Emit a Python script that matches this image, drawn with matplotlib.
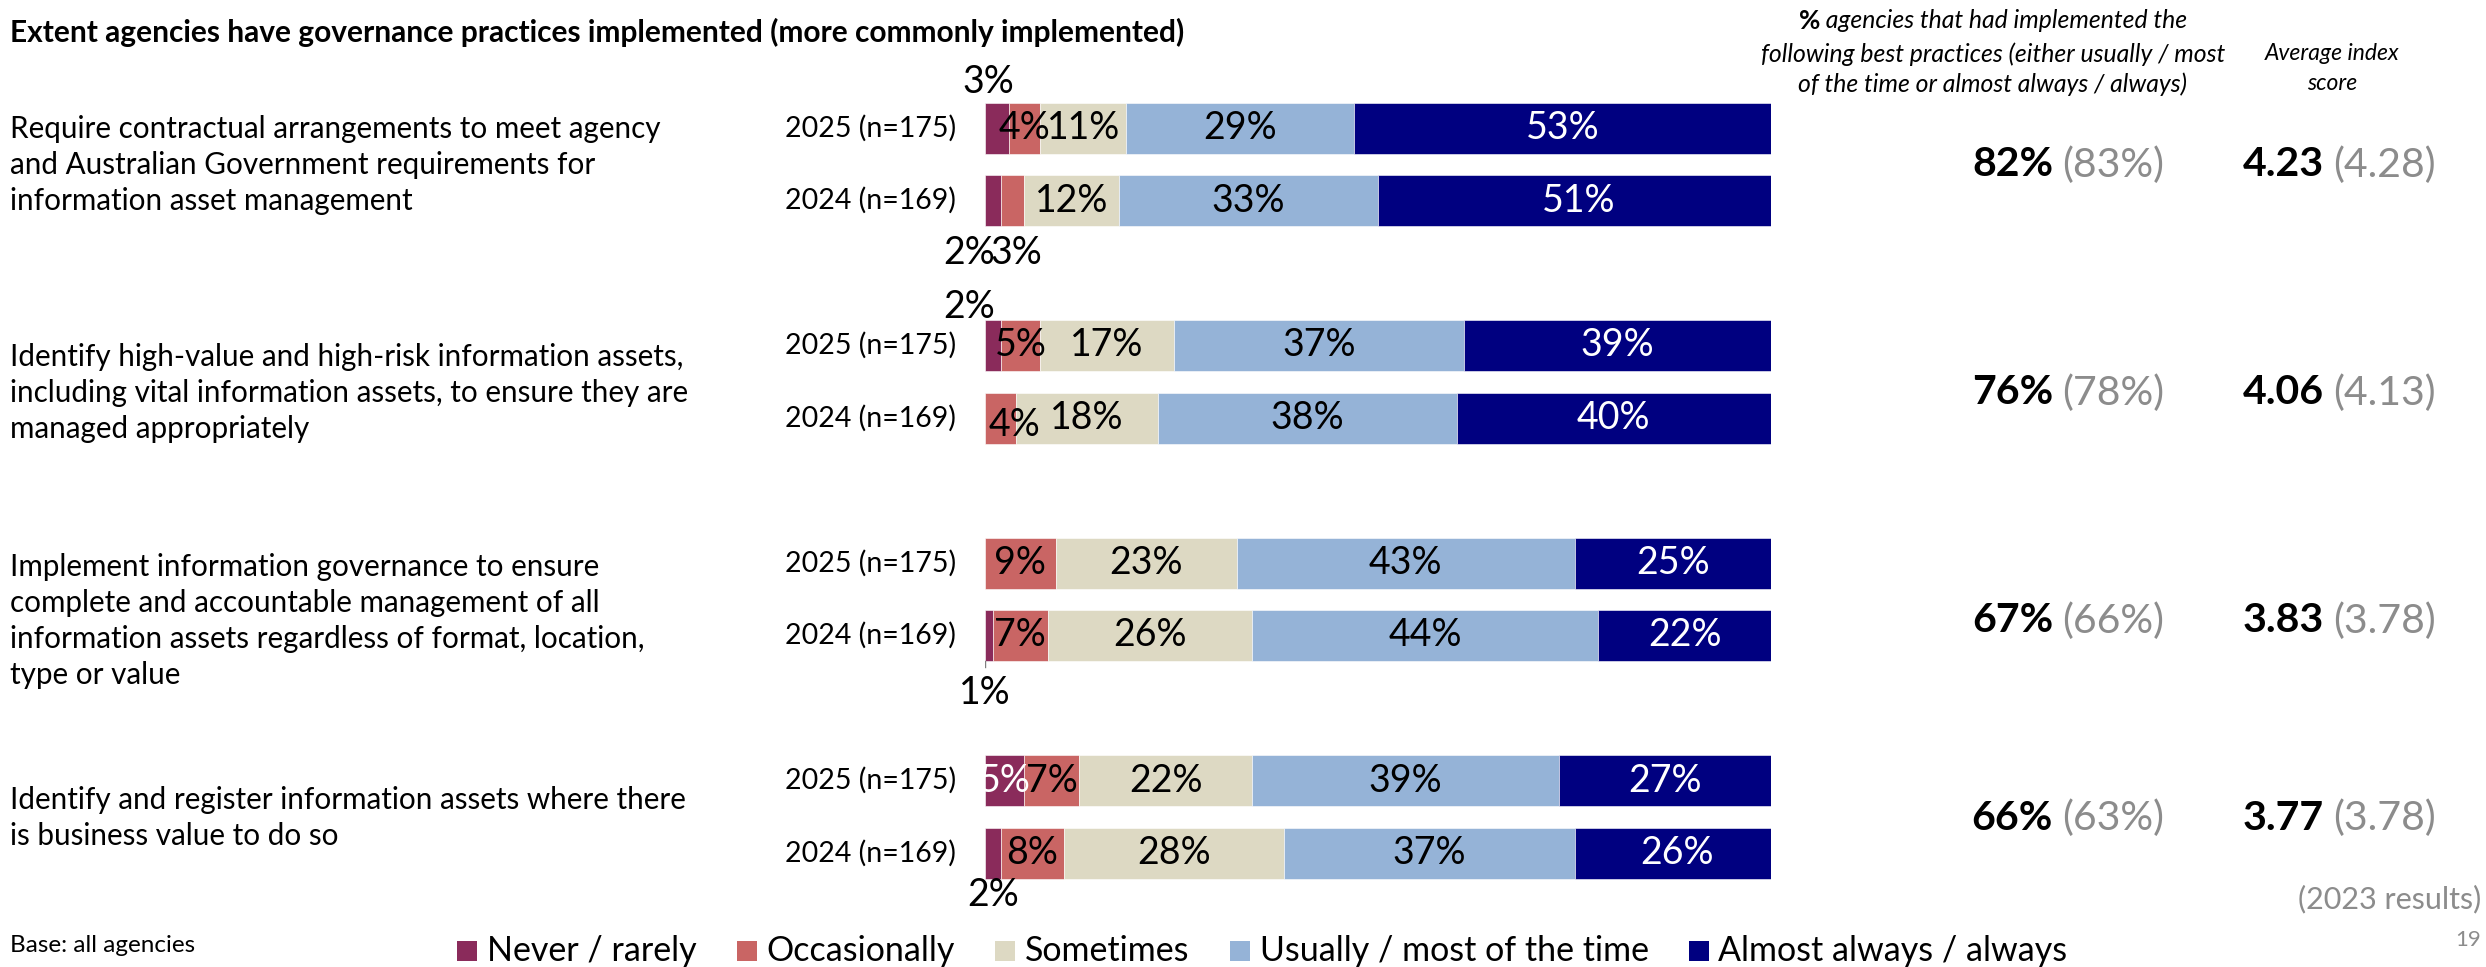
import matplotlib
matplotlib.use("Agg")
import matplotlib.pyplot as plt
from matplotlib.transforms import offset_copy

W, H = 2486, 967
plt.rcParams['font.family'] = ['Lato', 'DejaVu Sans']

# ---- data -------------------------------------------------------------
title = "Extent agencies have governance practices implemented (more commonly implemented)"
practices = [
    "Require contractual arrangements to meet agency\nand Australian Government requirements for\ninformation asset management",
    "Identify high-value and high-risk information assets,\nincluding vital information assets, to ensure they are\nmanaged appropriately",
    "Implement information governance to ensure\ncomplete and accountable management of all\ninformation assets regardless of format, location,\ntype or value",
    "Identify and register information assets where there\nis business value to do so",
]
waves = ["2025 (n=175)", "2024 (n=169)"]
responses = ["Never / rarely", "Occasionally", "Sometimes",
             "Usually / most of the time", "Almost always / always"]
colors = ["#8A2B5B", "#C96564", "#DDD9C3", "#95B3D7", "#000080"]

# rows: practice 1 (2025, 2024), practice 2 (2025, 2024), ...
never_rarely = [3, 2, 2, 0, 0, 1, 5, 2]
occasionally = [4, 3, 5, 4, 9, 7, 7, 8]
sometimes = [11, 12, 17, 18, 23, 26, 22, 28]
usually = [29, 33, 37, 38, 43, 44, 39, 37]
almost_always = [53, 51, 39, 40, 25, 22, 27, 26]
series = [never_rarely, occasionally, sometimes, usually, almost_always]

implemented_2025 = [82, 76, 67, 66]
implemented_2023 = [83, 78, 66, 63]
index_2025 = [4.23, 4.06, 3.83, 3.77]
index_2023 = [4.28, 4.13, 3.78, 3.78]

# ---- layout (pixels) --------------------------------------------------
BAR_L, BAR_R = 985, 1771
ROW0, GROUP_STEP, WAVE_STEP, BAR_H = 128, 217.5, 72.5, 51
TEXT_Y = [165, 393, 621, 818]

# labels of thin segments: (row, series) -> (dx px, dy px from bar centre)
outside = {(0, 0): (-8, -46), (1, 0): (-24, 53), (1, 1): (4, 53),
           (2, 0): (-24, -38), (5, 0): (-4, 58), (7, 0): (0, 42)}
inside_shift = {(3, 1): (14, 7), (6, 0): (0, 0)}

fig = plt.figure(figsize=(W / 100, H / 100), dpi=100)
fig.patch.set_facecolor("white")


def fx(x):
    return x / W


def fy(y):
    return 1 - y / H


ax = fig.add_axes([fx(BAR_L), 0, (BAR_R - BAR_L) / W, 1])
ax.set_xlim(0, 100)
ax.set_ylim(H, 0)
ax.axis("off")

ypos = [ROW0 + GROUP_STEP * (i // 2) + WAVE_STEP * (i % 2) for i in range(8)]

LBL = 27
left = [0] * 8
for s, vals in enumerate(series):
    ax.barh(ypos, vals, left=left, height=BAR_H, color=colors[s],
            edgecolor="white", linewidth=0.4)
    for r, v in enumerate(vals):
        if v == 0:
            continue
        cx = left[r] + v / 2
        if (r, s) in outside:
            dx, dy = outside[(r, s)]
            tr = offset_copy(ax.transData, fig=fig, x=dx, y=-dy, units="dots")
            ax.text(cx, ypos[r], f"{v}%", transform=tr, ha="center", va="center",
                    fontsize=LBL, color="black", clip_on=False)
            if r == 5:
                ax.plot([left[r], left[r]], [ypos[r] + BAR_H / 2, ypos[r] + BAR_H / 2 + 6],
                        color="#7f7f7f", lw=1)
        else:
            dx, dy = inside_shift.get((r, s), (0, 0))
            tr = offset_copy(ax.transData, fig=fig, x=dx, y=-dy, units="dots")
            white = s == 4 or s == 0
            ax.text(cx, ypos[r], f"{v}%", transform=tr, ha="center", va="center",
                    fontsize=LBL, color="white" if white else "black", clip_on=True)
    left = [a + b for a, b in zip(left, vals)]

# title
fig.text(fx(10), fy(32), title, fontsize=21.5, fontweight="bold", ha="left", va="center")

# practice descriptions and wave labels
for g, txt in enumerate(practices):
    fig.text(fx(10), fy(TEXT_Y[g]), txt, fontsize=21.3, ha="left", va="center",
             linespacing=1.36)
for r, y in enumerate(ypos):
    fig.text(fx(956), fy(y), waves[r % 2], fontsize=20.5, ha="right", va="center")

# right-hand summary columns
for g, y in enumerate(TEXT_Y):
    fig.text(fx(2053), fy(y), f"{implemented_2025[g]}%", fontsize=29.5, fontweight="bold",
             ha="right", va="center")
    fig.text(fx(2062), fy(y), f"({implemented_2023[g]}%)", fontsize=29.5, color="#8C8C8C",
             ha="left", va="center")
    fig.text(fx(2324), fy(y), f"{index_2025[g]:.2f}", fontsize=29.5, fontweight="bold",
             ha="right", va="center")
    fig.text(fx(2333), fy(y), f"({index_2023[g]:.2f})", fontsize=29.5, color="#8C8C8C",
             ha="left", va="center")

# column headers
fig.canvas.draw()
renderer = fig.canvas.get_renderer()
HDR = 17.8
hdr_cx = 1993
p1 = fig.text(0, fy(21), "%", fontsize=HDR + 1, fontweight="bold", ha="left", va="center")
p2 = fig.text(0, fy(21), " agencies that had implemented the", fontsize=HDR,
              style="italic", ha="left", va="center")
w1 = p1.get_window_extent(renderer).width
w2 = p2.get_window_extent(renderer).width
x0 = hdr_cx - (w1 + w2) / 2
p1.set_x(fx(x0))
p2.set_x(fx(x0 + w1))
fig.text(fx(hdr_cx), fy(54), "following best practices (either usually / most",
         fontsize=HDR, style="italic", ha="center", va="center")
fig.text(fx(hdr_cx), fy(84), "of the time or almost always / always)",
         fontsize=HDR, style="italic", ha="center", va="center")
fig.text(fx(2332), fy(54), "Average index", fontsize=16.5, style="italic",
         ha="center", va="center")
fig.text(fx(2332), fy(84), "score", fontsize=16.5, style="italic",
         ha="center", va="center")

# footnotes
fig.text(fx(2481), fy(899), "(2023 results)", fontsize=22, color="#8C8C8C",
         ha="right", va="center")
fig.text(fx(2481), fy(940), "19", fontsize=16, color="#8C8C8C", ha="right", va="center")
fig.text(fx(10), fy(946), "Base: all agencies", fontsize=17.5, ha="left", va="center")

# legend
lx, ly, sq = 457, 951, 20
for name, col in zip(responses, colors):
    fig.patches.append(plt.Rectangle((fx(lx), fy(ly + sq / 2)), sq / W, sq / H,
                                     transform=fig.transFigure, facecolor=col,
                                     edgecolor="none"))
    t = fig.text(fx(lx + sq + 10), fy(ly), name, fontsize=24.5, ha="left", va="center")
    lx += sq + 10 + t.get_window_extent(renderer).width + 40

fig.savefig("out.png", dpi=100, facecolor="white")
